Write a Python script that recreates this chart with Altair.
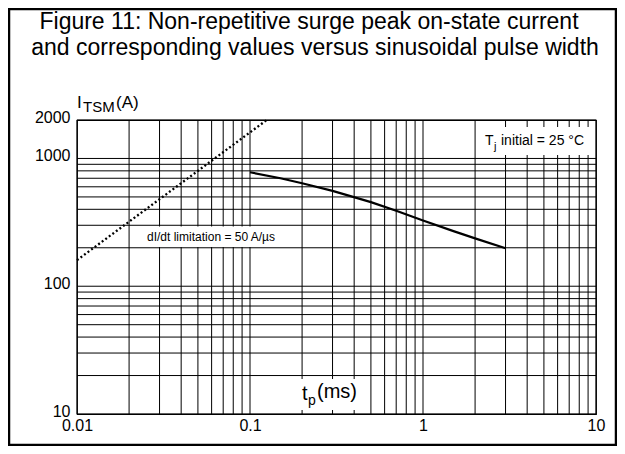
import altair as alt
import pandas as pd

# ---------------- data ----------------
grid_t = [0.01, 0.02, 0.03, 0.04, 0.05, 0.06, 0.07, 0.08, 0.09,
          0.1, 0.2, 0.3, 0.4, 0.5, 0.6, 0.7, 0.8, 0.9,
          1, 2, 3, 4, 5, 6, 7, 8, 9, 10]
grid_i = [10, 20, 30, 40, 50, 60, 70, 80, 90,
          100, 200, 300, 400, 500, 600, 700, 800, 900, 1000, 2000]
tick_t = [0.01, 0.1, 1, 10]
tick_i = [10, 100, 1000, 2000]

curve_tp = [0.1, 0.15, 0.2, 0.3, 0.5, 0.7, 1, 1.5, 2, 3]
curve_itsm = [780, 700, 640, 558, 455, 390, 327, 270, 237, 198]

limit_tp = [0.01, 0.125]
limit_itsm = [160, 2000]

title_lines = ["Figure 11: Non-repetitive surge peak on-state current",
               "and corresponding values versus sinusoidal pulse width"]

FONT = "Liberation Sans"
W, H = 519, 294

xs = alt.Scale(type="log", domain=[0.01, 10])
ys = alt.Scale(type="log", domain=[10, 2000])
x_axis = alt.Axis(values=tick_t, format="~g", grid=False, ticks=False,
                  domain=False, labelFontSize=16, labelFont=FONT,
                  labelColor="black", labelPadding=3, labelFlush=False)
y_axis = alt.Axis(values=tick_i, format="d", grid=False, ticks=False,
                  domain=False, labelFontSize=16, labelFont=FONT,
                  labelColor="black", labelPadding=7, labelOffset=-3,
                  labelFlush=False)

one = pd.DataFrame({"a": [0]})

vgrid = alt.Chart(pd.DataFrame({"t": grid_t})).mark_rule(
    color="black", strokeWidth=1).encode(
    x=alt.X("t:Q", scale=xs, title=None, axis=x_axis),
    y=alt.value(0), y2=alt.value(H))

hgrid = alt.Chart(pd.DataFrame({"i": grid_i})).mark_rule(
    color="black", strokeWidth=1).encode(
    y=alt.Y("i:Q", scale=ys, title=None, axis=y_axis),
    x=alt.value(0), x2=alt.value(W))

def box(x1, x2, y1, y2):
    return alt.Chart(one).mark_rect(fill="white").encode(
        x=alt.value(x1), x2=alt.value(x2), y=alt.value(y1), y2=alt.value(y2))

def txt(s, x, y, size, align="left", baseline="alphabetic"):
    return alt.Chart(one).mark_text(
        text=s, align=align, baseline=baseline, fontSize=size, font=FONT,
        color="black").encode(x=alt.value(x), y=alt.value(y))

boxes = [box(221, 289, 259, 290), box(406, 516, 7, 35), box(58, 208, 106.5, 127)]

limit = alt.Chart(pd.DataFrame({"t": limit_tp, "i": limit_itsm})).mark_line(
    color="black", strokeWidth=2.3, strokeDash=[2, 2.4]).encode(
    x=alt.X("t:Q", scale=xs, title=None, axis=x_axis),
    y=alt.Y("i:Q", scale=ys, title=None, axis=y_axis))

curve = alt.Chart(pd.DataFrame({"t": curve_tp, "i": curve_itsm})).mark_line(
    color="black", strokeWidth=2.2).encode(
    x=alt.X("t:Q", scale=xs, title=None, axis=x_axis),
    y=alt.Y("i:Q", scale=ys, title=None, axis=y_axis))

texts = [
    txt(title_lines[0], 232, -91, 23, align="center"),
    txt(title_lines[1], 238, -65, 23, align="center"),
    txt("I", 0, -12, 17),
    txt("TSM", 6, -8, 15),
    txt("(A)", 39, -12, 17),
    txt("t", 225, 280, 20),
    txt("p", 231, 285, 14),
    txt("(ms)", 240, 278, 20),
    txt("T", 408, 25, 14),
    txt("j", 417, 30, 11),
    txt("initial = 25 °C", 424, 25, 14),
    txt("dI/dt limitation = 50 A/µs", 134, 117, 12, align="center", baseline="middle"),
]

border = alt.Chart(one).mark_rect(fillOpacity=0, stroke="black", strokeWidth=2.5).encode(
    x=alt.value(-68), x2=alt.value(539), y=alt.value(-111), y2=alt.value(325))

chart = alt.layer(vgrid, hgrid, *boxes, limit, curve, *texts, border).properties(
    width=W, height=H, autosize="none",
    padding={"left": 69, "top": 112, "right": 21, "bottom": 32},
).configure_view(stroke="black", strokeWidth=1.2)

chart.save("out.html", embed_options={"renderer": "svg", "actions": False})
